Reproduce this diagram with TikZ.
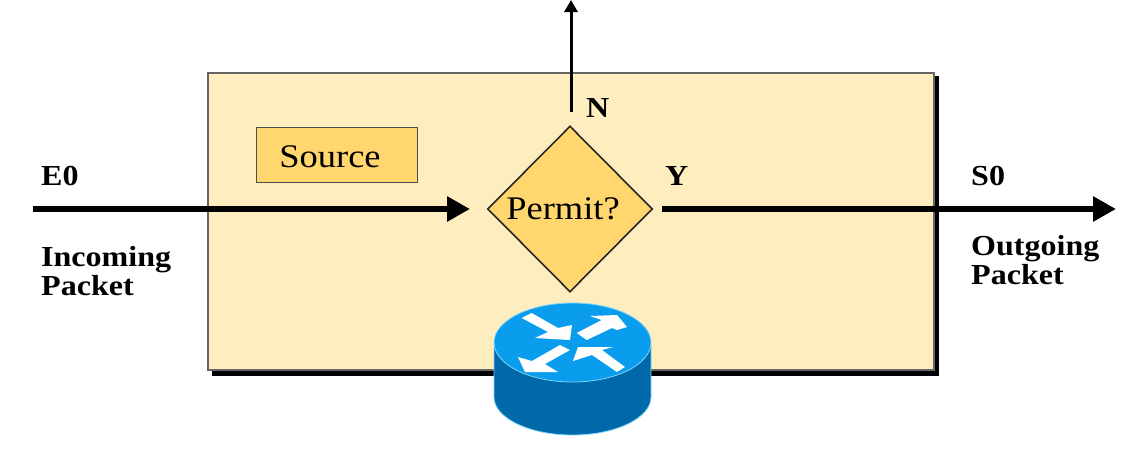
\documentclass[tikz,border=0pt]{standalone}
\usepackage{fontspec}
\setmainfont[FakeStretch=1.105]{Liberation Serif}
\usetikzlibrary{arrows.meta,shapes.geometric}
\definecolor{panel}{HTML}{FEEDBE}
\definecolor{gold}{HTML}{FFD76E}
\definecolor{rtop}{HTML}{0A9DEE}
\definecolor{rside}{HTML}{0069AA}
\definecolor{rglow}{HTML}{7FD4F7}
\tikzset{
 x=1pt,y=-1pt,
 flow/.style={line width=6pt,-{Triangle[length=23pt,width=24pt]}},
 flowup/.style={line width=3pt,-{Triangle[length=12pt,width=13pt]}},
 lab/.style={font=\fontsize{29}{29}\selectfont\bfseries,anchor=west,inner sep=0pt,align=left},
 rarrow/.style={fill=white,draw=none},
}
\begin{document}
\begin{tikzpicture}
\useasboundingbox (0,0) rectangle (1148,451);
\fill[white] (0,0) rectangle (1148,451);
\coordinate (inS) at (33,209);
\coordinate (inE) at (470,209);
\coordinate (outS) at (662,209);
\coordinate (outE) at (1116,209);
\coordinate (upS) at (571,112);
\coordinate (upE) at (571,0);
% shadow and panel
\fill[black] (212,76) rectangle (939,376);
\node[draw=black!60,line width=1.6pt,fill=panel,minimum width=726pt,minimum height=297pt,anchor=north west,inner sep=0pt] (panel) at (207,72) {};
\draw[flow] (inS) -- (inE);
\draw[flow] (outS) -- (outE);
\draw[flowup] (upS) -- (upE);
\node[draw=black!70,line width=1.3pt,fill=gold,minimum width=161pt,minimum height=55pt,inner sep=0pt] (src) at (337,155) {};
\node[font=\fontsize{33}{33}\selectfont,inner sep=0pt] (srcl) at (330,157) {Source};
\node[diamond,draw=black!85,line width=1.6pt,fill=gold,minimum width=165pt,minimum height=166pt,inner sep=0pt] (dec) at (570,209) {};
\node[font=\fontsize{33}{33}\selectfont,inner sep=0pt] (decl) at (563,209) {Permit?};
\node[lab] (n) at (586,108) {N};
\node[lab] (y) at (665,176) {Y};
\node[lab] (e0) at (41,176) {E0};
\node[lab] (s0) at (971,176) {S0};
\node[lab,text width=140pt] (ip) at (41,271) {\fontsize{29}{30}\selectfont Incoming\\Packet};
\node[lab,text width=140pt] (op) at (971,260) {\fontsize{29}{30}\selectfont Outgoing\\Packet};
% router
\fill[rside,draw=rglow,line width=0.8pt] (494,345) -- (494,397) arc[start angle=180,end angle=360,x radius=78.5pt,y radius=38pt] -- (651,345) -- cycle;
\fill[rtop,draw=rglow,line width=0.8pt] (572.5,342.5) ellipse[x radius=78.5pt,y radius=39.5pt];
\fill[rarrow] (521.7,318) -- (531.7,313) -- (558,328) -- (572,325) -- (570,340) -- (535,338) -- (548,332) -- cycle;
\fill[rarrow] (576.7,333) -- (586.7,340) -- (612,328) -- (617,330) -- (627,327) -- (617,315) -- (590,316) -- (601.7,320) -- cycle;
\fill[rarrow] (560,345) -- (570,350) -- (545,364) -- (558,372) -- (525,372) -- (518,357) -- (532,361) -- cycle;
\fill[rarrow] (573,361) -- (578,347) -- (613,347) -- (602,350) -- (625,367) -- (617,372) -- (592,355) -- cycle;
\end{tikzpicture}
\end{document}
